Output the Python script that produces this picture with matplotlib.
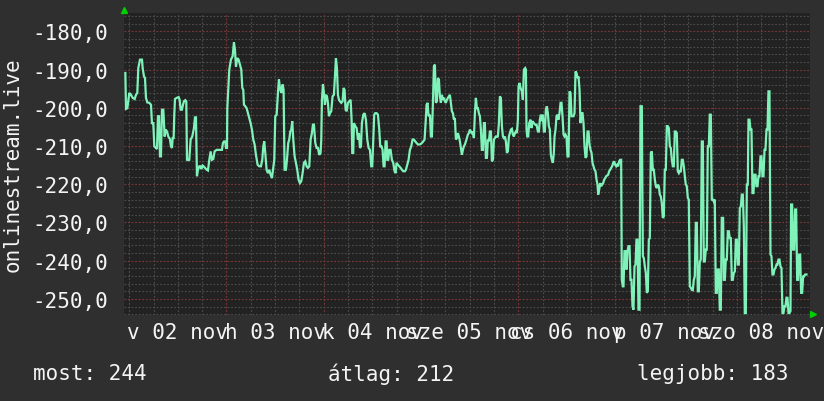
import matplotlib
matplotlib.use("Agg")
import matplotlib.pyplot as plt
import numpy as np

# ---- data (hours since 2 Nov 00:00, value) ----
hours = [
    -0.95, -0.79, -0.46, 0.03, 0.44, 0.86, 1.35, 1.68, 2.0, 2.25,
    2.66, 3.16, 3.32, 3.65, 3.9, 4.14, 4.47, 4.97, 5.38, 5.62,
    5.95, 6.2, 6.61, 6.86, 7.1, 7.35, 7.6, 7.84, 8.09, 8.42,
    8.75, 9.0, 9.32, 9.65, 10.06, 10.31, 10.56, 10.72, 10.97, 11.13,
    11.3, 11.71, 12.2, 12.45, 12.7, 13.02, 13.27, 13.52, 13.85, 14.09,
    14.26, 14.59, 14.83, 15.16, 15.57, 15.98, 16.23, 16.48, 16.72, 16.97,
    17.3, 17.55, 17.79, 18.12, 18.37, 18.7, 19.11, 19.44, 19.77, 20.1,
    20.42, 20.75, 21.08, 21.58, 22.4, 22.89, 23.14,
    23.39, 23.71, 23.88, 24.13, 24.21, 24.7, 25.11, 25.53, 25.85, 26.1,
    26.35, 26.67, 27.0, 27.33, 27.66, 27.91, 28.15, 28.32, 28.65, 28.98,
    29.31, 29.63, 29.96, 30.29, 30.62, 30.95, 31.28, 31.69, 32.1, 32.51,
    32.84, 33.09, 33.33, 33.58, 33.91, 34.24, 34.57, 34.9, 35.23, 35.55,
    35.8, 36.05, 36.38, 36.71, 36.95, 37.2, 37.53, 37.86, 38.1, 38.35,
    38.68, 38.93, 39.25, 39.5, 39.75, 40.0, 40.24, 40.49, 40.82, 41.15,
    41.47, 41.8, 42.13, 42.46, 42.79, 43.12, 43.45, 43.78, 44.11, 44.44,
    44.77, 45.1, 45.34, 45.59, 45.92, 46.25, 46.58, 46.9, 47.23, 47.4,
    47.56, 47.81,
    48.06, 48.3, 48.55, 48.8, 49.04, 49.29, 49.54, 49.86, 50.19, 50.52,
    50.77, 51.02, 51.26, 51.51, 51.76, 52.0, 52.33, 52.66, 52.91, 53.15,
    53.4, 53.65, 53.98, 54.31, 54.64, 54.88, 55.05, 55.29, 55.46, 55.79,
    56.12, 56.45, 56.69, 56.94, 57.19, 57.43, 57.76, 58.09, 58.42, 58.75,
    59.08, 59.41, 59.73, 59.98, 60.23, 60.47, 60.72, 61.05, 61.38, 61.71,
    61.95, 62.28, 62.53, 62.78, 63.02, 63.27, 63.52, 63.68, 63.93, 64.17,
    64.5, 64.83, 65.16, 65.49, 65.74, 65.98, 66.31, 66.64, 66.97, 67.3,
    67.63, 68.04, 68.29, 68.61, 68.94, 69.27, 69.6, 69.93, 70.26, 70.59,
    70.92, 71.25, 71.57, 71.9, 72.23, 72.56,
    72.89, 73.14, 73.38, 73.63, 73.88, 74.21, 74.45, 74.7, 74.95, 75.19,
    75.44, 75.69, 75.93, 76.18, 76.43, 76.67, 76.92, 77.17, 77.41, 77.66,
    77.91, 78.15, 78.4, 78.65, 78.89, 79.14, 79.39, 79.63, 79.88, 80.13,
    80.37, 80.62, 80.87, 81.11, 81.36, 81.61, 81.85, 82.1, 82.35, 82.59,
    82.84, 83.09, 83.33, 83.58, 83.83, 84.07, 84.32, 84.57, 84.81, 85.06,
    85.31, 85.55, 85.8, 86.05, 86.29, 86.54, 86.79, 87.03, 87.28, 87.53,
    87.77, 88.02, 88.27, 88.51, 88.76, 89.01, 89.26, 89.5, 89.75, 90.0,
    90.24, 90.49, 90.74, 90.98, 91.23, 91.48, 91.72, 91.97, 92.22, 92.46,
    92.71, 92.96, 93.2, 93.45, 93.7, 93.94, 94.19, 94.44, 94.68, 94.93,
    95.18, 95.42, 95.67, 95.92, 96.08, 96.33, 96.57,
    96.9, 97.15, 97.4, 97.72, 97.89, 98.05, 98.22, 98.46, 98.71, 99.04,
    99.29, 99.53, 99.86, 100.19, 100.52, 100.85, 101.1, 101.34, 101.59, 101.83,
    102.08, 102.33, 102.57, 102.82, 103.07, 103.31, 103.56, 103.81, 104.05, 104.3,
    104.55, 104.79, 104.96, 105.2, 105.45, 105.7, 105.94, 106.19, 106.44, 106.68,
    106.93, 107.18, 107.42, 107.67, 107.92, 108.16, 108.41, 108.66, 108.91, 109.15,
    109.4, 109.65, 109.89, 110.14, 110.39, 110.63, 110.88, 111.13, 111.37, 111.62,
    111.87, 112.11, 112.36, 112.61, 112.85, 113.1, 113.35, 113.59, 113.84, 114.09,
    114.33, 114.58, 114.83, 115.07, 115.32, 115.57, 115.73, 115.98, 116.22, 116.47,
    116.72, 116.96, 117.21, 117.46, 117.7, 117.95, 118.2, 118.44, 118.69, 118.94,
    119.18, 119.43, 119.67, 119.92, 120.17, 120.41, 120.66, 120.91, 121.15, 121.4,
    121.56, 121.81,
    121.98, 122.22, 122.47, 122.72, 122.96, 123.21, 123.46, 123.7, 123.95, 124.2,
    124.44, 124.69, 124.94, 125.18, 125.43, 125.68, 125.92, 126.17, 126.5, 126.75,
    126.99, 127.24, 127.49, 127.73, 127.98, 128.23, 128.47, 128.72, 128.97, 129.21,
    129.46, 129.71, 129.95, 130.2, 130.45, 130.69, 130.94, 131.19, 131.43, 131.68,
    131.93, 132.17, 132.42, 132.67, 132.91, 133.16, 133.41, 133.65, 133.9, 134.15,
    134.39, 134.64, 134.89, 135.13, 135.38, 135.63, 135.87, 136.12, 136.37, 136.61,
    136.86, 137.11, 137.35, 137.6, 137.85, 138.09, 138.34, 138.59, 138.83, 139.08,
    139.33, 139.57, 139.82, 140.07, 140.31, 140.56, 140.81, 141.05, 141.3, 141.55,
    141.79, 142.04, 142.29, 142.53, 142.78, 143.03, 143.27, 143.52, 143.77, 144.01,
    144.26, 144.51, 144.75, 145.0, 145.25, 145.49, 145.74, 145.99, 146.23, 146.56,
    146.73, 146.98, 147.23, 147.47, 147.72, 147.97, 148.21, 148.46, 148.71, 148.95,
    149.2, 149.45, 149.69, 149.94, 150.19, 150.43, 150.68, 150.93, 151.17, 151.42,
    151.67, 151.91, 152.16, 152.41, 152.65, 152.82, 153.07, 153.31, 153.56, 153.81,
    154.05, 154.3, 154.55, 154.79, 155.04, 155.29, 155.53, 155.78, 156.03, 156.27,
    156.52, 156.77, 157.01, 157.26, 157.51, 157.75, 158.0, 158.25, 158.49, 158.74,
    158.99, 159.23, 159.48, 159.73, 159.97, 160.22, 160.47, 160.71, 160.96, 161.21,
    161.45, 161.7, 161.95, 162.19, 162.44, 162.69, 162.93, 163.18, 163.34, 163.59,
    163.84, 164.09, 164.33, 164.58, 164.83, 165.07, 165.32, 165.57, 165.81, 166.06,
    166.31, 166.55, 166.8, 167.13,
]

values = [
    -190.9, -200.3, -200.1, -196.1, -196.6, -197.4, -197.7, -196.6, -196.1, -189.6,
    -187.4, -187.4, -189.6, -191.8, -192.2, -197.4, -198.6, -198.7, -199.2, -204.0,
    -204.0, -210.1, -210.5, -210.8, -202.2, -202.2, -212.7, -212.7, -200.5, -200.5,
    -207.5, -205.7, -206.2, -207.5, -208.2, -210.1, -210.5, -207.9, -207.9, -201.8,
    -197.7, -197.4, -197.2, -197.9, -200.5, -200.5, -199.2, -198.3, -198.0, -198.3,
    -213.6, -213.7, -213.6, -208.3, -207.5, -205.3, -202.5, -202.5, -217.9, -216.2,
    -215.3, -215.3, -216.0, -215.1, -215.3, -215.7, -216.2, -216.4, -213.6, -211.4,
    -213.6, -213.4, -211.4, -211.0, -211.0, -211.0, -209.2,
    -208.8, -208.8, -210.5, -210.5, -200.1, -190.0, -187.4, -186.5, -182.9, -184.8,
    -189.2, -187.0, -187.4, -188.7, -190.0, -194.8, -195.3, -199.2, -199.6, -200.1,
    -201.4, -202.7, -204.0, -205.7, -208.3, -209.6, -212.3, -214.9, -215.3, -215.3,
    -213.6, -210.1, -208.8, -211.8, -216.2, -217.1, -216.2, -217.5, -218.4, -215.7,
    -213.6, -202.2, -201.8, -196.1, -192.6, -194.8, -196.1, -193.9, -195.3, -216.2,
    -216.2, -213.6, -209.2, -208.3, -206.2, -205.7, -203.5, -208.3, -212.7, -214.4,
    -216.2, -218.8, -219.7, -219.2, -217.1, -214.4, -214.0, -215.3, -215.7, -215.3,
    -208.3, -206.6, -204.4, -204.4, -209.2, -210.5, -210.5, -212.3, -211.8, -208.3,
    -197.9, -193.9,
    -196.1, -199.2, -196.6, -197.0, -198.7, -202.2, -201.4, -200.9, -197.0, -196.6,
    -191.8, -187.0, -189.6, -196.6, -197.9, -198.3, -198.7, -198.3, -194.8, -195.3,
    -200.5, -200.9, -198.7, -198.3, -197.9, -203.1, -211.8, -211.8, -204.0, -204.8,
    -205.3, -208.3, -206.6, -210.5, -210.1, -204.0, -201.8, -201.4, -203.1, -208.3,
    -210.5, -211.0, -215.3, -215.3, -208.3, -201.8, -201.4, -201.4, -201.8, -205.7,
    -210.1, -210.1, -211.0, -215.3, -215.3, -208.8, -208.8, -213.6, -213.6, -211.0,
    -211.0, -213.6, -214.4, -216.6, -217.1, -214.4, -214.9, -215.3, -215.7, -216.2,
    -216.6, -216.6, -216.2, -214.9, -213.6, -211.0, -210.1, -208.3, -208.3, -208.8,
    -209.2, -209.6, -209.6, -209.5, -209.2, -208.8,
    -208.3, -204.0, -199.2, -198.7, -202.2, -201.8, -207.5, -207.5, -198.7, -189.2,
    -188.7, -198.7, -198.3, -192.2, -192.6, -197.0, -198.7, -196.6, -197.9, -197.4,
    -198.3, -198.7, -197.9, -197.4, -197.0, -196.6, -198.7, -200.9, -201.4, -203.1,
    -202.7, -208.3, -207.9, -206.6, -207.5, -208.8, -210.5, -212.3, -211.0, -210.1,
    -209.6, -208.8, -207.9, -207.0, -206.6, -205.7, -206.2, -206.6, -206.2, -207.9,
    -201.4, -197.4, -200.1, -200.1, -201.4, -202.2, -205.7, -211.0, -211.0, -204.0,
    -204.0, -213.1, -213.1, -208.3, -208.8, -206.2, -206.2, -214.0, -213.6, -208.3,
    -207.9, -207.5, -207.6, -207.5, -204.0, -197.0, -197.4, -204.8, -207.5, -207.9,
    -207.5, -208.8, -211.8, -211.4, -207.5, -206.6, -205.7, -205.5, -207.0, -207.5,
    -206.6, -206.2, -206.6, -203.1, -194.4, -193.5, -194.8,
    -195.7, -197.9, -190.0, -189.6, -190.0, -205.7, -207.5, -207.5, -204.0, -203.1,
    -205.3, -203.5, -204.0, -204.4, -204.4, -206.2, -206.2, -203.1, -201.8, -203.5,
    -201.8, -206.2, -206.2, -200.5, -199.6, -201.4, -204.8, -205.7, -212.3, -213.6,
    -214.4, -211.8, -207.5, -205.7, -202.2, -201.8, -203.1, -201.4, -198.7, -198.7,
    -202.2, -207.0, -207.5, -207.0, -207.5, -212.7, -212.7, -195.7, -196.1, -202.2,
    -202.2, -202.2, -201.4, -190.5, -190.9, -192.2, -191.8, -195.3, -204.0, -201.4,
    -201.4, -204.0, -210.1, -213.1, -212.7, -206.2, -206.2, -209.6, -211.0, -211.8,
    -214.4, -215.3, -216.2, -216.6, -218.8, -220.1, -222.7, -221.4, -219.7, -220.5,
    -220.1, -219.7, -218.8, -218.4, -217.9, -217.7, -217.5, -216.6, -216.2, -215.7,
    -215.3, -214.4, -214.0, -214.9, -215.3, -214.9, -215.3, -214.0, -213.6, -213.6,
    -245.0, -246.7,
    -246.7, -237.5, -237.5, -242.3, -237.5, -236.2, -236.2, -245.0, -245.0, -251.9,
    -252.8, -241.5, -241.0, -234.5, -234.5, -252.8, -252.8, -199.6, -199.6, -238.8,
    -239.3, -241.5, -243.2, -248.4, -248.0, -234.5, -234.1, -211.8, -211.4, -216.2,
    -216.2, -218.8, -220.5, -221.0, -220.1, -220.5, -222.7, -223.2, -224.9, -228.8,
    -228.4, -216.2, -216.2, -204.8, -204.8, -205.3, -210.1, -210.5, -213.6, -215.3,
    -215.3, -206.2, -206.2, -206.6, -216.6, -217.1, -216.6, -216.6, -213.6, -213.6,
    -215.3, -217.9, -220.1, -220.5, -223.6, -224.0, -246.7, -247.1, -247.6, -247.7,
    -245.0, -244.1, -230.1, -230.1, -248.0, -248.0, -240.2, -239.7, -208.8, -208.8,
    -240.2, -240.2, -237.1, -237.1, -210.1, -210.1, -201.8, -201.8, -224.0, -224.0,
    -224.5, -224.0, -248.4, -248.4, -242.3, -242.3, -252.8, -252.8, -228.8, -228.8,
    -245.0, -245.0, -239.7, -239.7, -232.3, -232.3, -234.1, -234.1, -245.0, -245.0,
    -243.2, -242.8, -234.5, -234.5, -241.0, -241.0, -226.2, -225.8, -222.7, -222.7,
    -231.0, -253.7, -253.7, -220.1, -220.1, -203.1, -203.1, -205.7, -205.7, -222.3,
    -222.3, -217.5, -217.5, -220.5, -220.5, -217.9, -217.9, -212.7, -212.7, -217.9,
    -217.9, -211.0, -211.0, -205.7, -205.7, -195.7, -195.7, -238.4, -238.8, -243.6,
    -243.6, -242.3, -241.9, -241.0, -241.0, -239.7, -239.7, -241.5, -241.9, -253.7,
    -253.7, -251.9, -251.9, -249.7, -249.7, -253.7, -253.7, -253.2, -225.3, -225.3,
    -237.1, -237.1, -226.6, -226.6, -245.0, -245.0, -238.4, -238.4, -248.4, -248.4,
    -244.1, -244.1, -243.6, -243.6,
]

day_labels = ["v 02 nov", "h 03 nov", "k 04 nov", "sze 05 nov",
              "cs 06 nov", "p 07 nov", "szo 08 nov"]
y_ticks = [-250, -240, -230, -220, -210, -200, -190, -180]
y_title = "onlinestream.live"
stat_names = ["most", "átlag", "legjobb"]
stat_values = [244, 212, 183]

# ---- style ----
BG = "#2f2f2f"
PLOT_BG = "#222222"
LINE = "#7ff2b9"
TXT = "#f4f4f4"
GRID_MINOR = "#4c4c4c"
GRID_MAJOR = "#7c3838"
MONO = "DejaVu Sans Mono"
FS = 15

W, H = 824, 402
fig = plt.figure(figsize=(W / 100, H / 100), dpi=100, facecolor=BG)
ax = fig.add_axes([124 / W, 1 - 316 / H, (810 - 124) / W, (316 - 14) / H])
ax.set_facecolor(PLOT_BG)
x0, x1 = -1.28, 168.0
y0, y1 = -254.2, -175.2
ax.set_xlim(x0, x1)
ax.set_ylim(y0, y1)

dash = (0, (1.6, 1.6))
for hh in np.arange(0, 168.1, 6):
    major = (round(hh) % 24 == 0)
    ax.axvline(hh, color=GRID_MAJOR if major else GRID_MINOR, lw=0.8,
               ls=dash, zorder=1)
for vv in np.arange(-254, -175, 2):
    major = (round(vv) % 10 == 0)
    ax.axhline(vv, color=GRID_MAJOR if major else GRID_MINOR, lw=0.8,
               ls=dash, zorder=1)

ax.plot(hours, values, color=LINE, lw=1.6, zorder=3, solid_joinstyle="miter")

for s in ax.spines.values():
    s.set_visible(False)

ax.set_yticks(y_ticks)
ax.set_yticklabels([("%.1f" % v).replace(".", ",") for v in y_ticks])
ax.set_xticks([12 + 24 * i for i in range(len(day_labels))])
ax.set_xticklabels(day_labels)
ax.tick_params(axis="y", length=0, pad=11.5, colors=TXT, labelsize=FS)
ax.tick_params(axis="x", length=0, pad=5, colors=TXT, labelsize=FS)
for lab in ax.get_xticklabels() + ax.get_yticklabels():
    lab.set_family(MONO)

# axis arrows
ax.plot([0.0], [1.0 + 3.5 / 302], marker="^", ms=4.5, color="#00d000",
        transform=ax.transAxes, clip_on=False, zorder=5)
ax.plot([1.0 + 3.0 / 686], [1.5 / 302], marker=">", ms=4.5, color="#00d000",
        transform=ax.transAxes, clip_on=False, zorder=5)

fig.text(13 / W, 1 - 165 / H, y_title, rotation=90, ha="center", va="center",
         color=TXT, fontsize=FS, family=MONO)

stat_x = [33, 328, 637]
for xs, n, v in zip(stat_x, stat_names, stat_values):
    fig.text(xs / W, 1 - 374 / H, "%s: %d" % (n, v), ha="left", va="center",
             color=TXT, fontsize=FS, family=MONO)

fig.savefig("out.png", dpi=100, facecolor=BG)
